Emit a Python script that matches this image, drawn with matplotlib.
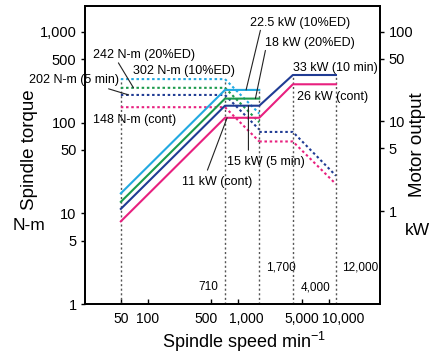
import matplotlib
matplotlib.use("Agg")
import matplotlib.pyplot as plt
from matplotlib.ticker import FixedLocator, FixedFormatter, NullLocator
from matplotlib.transforms import ScaledTranslation

plt.rcParams["font.family"] = ["Liberation Sans", "DejaVu Sans"]
plt.rcParams["mathtext.default"] = "regular"

# Low-speed winding (torque, N-m)
speed_low = [50, 710, 1700]
torque_10ed = [302, 302, 126]
torque_20ed = [242, 242, 101]
torque_5min = [202, 202, 84]
torque_cont = [148, 148, 62]

# High-speed winding (torque, N-m)
speed_high = [1700, 4000, 12000]
torque_10min_high = [79, 79, 26]
torque_cont_high = [62, 62, 21]

# Motor output (kW)
speed_pw = [50, 710, 1700]
power_10ed = [1.58, 22.5, 22.5]
power_20ed = [1.27, 18, 18]
speed_pw_full = [50, 710, 1700, 4000, 12000]
power_5min = [1.06, 15, 15, 33, 33]
power_cont = [0.77, 11, 11, 26, 26]

# marker speeds
mark_speeds = [50, 710, 1700, 4000, 12000]
mark_labels = ["710", "1,700", "4,000", "12,000"]

x_ticks = [50, 100, 500, 1000, 5000, 10000]
x_labels = ["50", "100", "500", "1,000", "5,000", "10,000"]
x_label_shift = [0, 0, -5, 8, 0, 14]  # px, labels nudged apart like the original
yl_ticks = [1, 5, 10, 50, 100, 500, 1000]
yl_labels = ["1", "5", "10", "50", "100", "500", "1,000"]
yr_ticks = [1, 5, 10, 50, 100]
yr_labels = ["1", "5", "10", "50", "100"]

C_LB = "#22a9e1"
C_GR = "#1b9a4c"
C_DB = "#203c94"
C_MG = "#e8207f"
C_VL = "#555555"
DOT = (0, (1.2, 1.3))
VDOT = (0, (1.5, 1.8))
LW = 1.5

fig = plt.figure(figsize=(4.33, 3.54), dpi=100)
ax = fig.add_axes([0.196, 0.141, 0.682, 0.842])
ax2 = ax.twinx()

ax.set_xscale("log")
ax.set_yscale("log")
ax2.set_yscale("log")
ax.set_xlim(20, 37000)
ax.set_ylim(1, 1930)
ax2.set_ylim(0.092, 194)

# vertical guide lines
ax.plot([mark_speeds[0]] * 2, [1, torque_10ed[0]], color=C_VL, lw=1.0, ls=VDOT)
ax.plot([mark_speeds[1]] * 2, [1, torque_10ed[1]], color=C_VL, lw=1.0, ls=VDOT)
ax2.plot([mark_speeds[2]] * 2, [0.092, power_10ed[2]], color=C_VL, lw=1.0, ls=VDOT)
ax2.plot([mark_speeds[3]] * 2, [0.092, power_5min[3]], color=C_VL, lw=1.0, ls=VDOT)
ax2.plot([mark_speeds[4]] * 2, [0.092, power_5min[4]], color=C_VL, lw=1.0, ls=VDOT)

# torque (dotted)
ax.plot(speed_low, torque_10ed, color=C_LB, lw=LW, ls=DOT)
ax.plot(speed_low, torque_20ed, color=C_GR, lw=LW, ls=DOT)
ax.plot(speed_low, torque_5min, color=C_DB, lw=LW, ls=DOT)
ax.plot(speed_low, torque_cont, color=C_MG, lw=LW, ls=DOT)
ax.plot(speed_high, torque_10min_high, color=C_DB, lw=LW, ls=DOT)
ax.plot(speed_high, torque_cont_high, color=C_MG, lw=LW, ls=DOT)

# output (solid)
ax2.plot(speed_pw, power_10ed, color=C_LB, lw=LW)
ax2.plot(speed_pw, power_20ed, color=C_GR, lw=LW)
ax2.plot(speed_pw_full, power_5min, color=C_DB, lw=LW)
ax2.plot(speed_pw_full, power_cont, color=C_MG, lw=LW)

# ticks
ax.xaxis.set_major_locator(FixedLocator(x_ticks))
ax.xaxis.set_major_formatter(FixedFormatter(x_labels))
ax.xaxis.set_minor_locator(NullLocator())
ax.yaxis.set_major_locator(FixedLocator(yl_ticks))
ax.yaxis.set_major_formatter(FixedFormatter(yl_labels))
ax.yaxis.set_minor_locator(NullLocator())
ax2.yaxis.set_major_locator(FixedLocator(yr_ticks))
ax2.yaxis.set_major_formatter(FixedFormatter(yr_labels))
ax2.yaxis.set_minor_locator(NullLocator())

ax.tick_params(axis="x", direction="in", length=3.5, width=1.0, pad=6, labelsize=10)
ax.tick_params(axis="y", direction="out", length=3, width=1.0, pad=3, labelsize=10.5)
ax2.tick_params(axis="y", direction="out", length=3, width=1.0, pad=3, labelsize=10.5)
for a in (ax, ax2):
    for s in a.spines.values():
        s.set_linewidth(1.3)

FS = 9
lead = dict(arrowstyle="-", color="#222222", lw=0.8, shrinkA=0, shrinkB=0)

# torque labels (left axis)
ax.text(24.4, 560, "242 N-m (20%ED)", ha="left", va="center", fontsize=FS)
ax.annotate("", xy=(69, 242), xytext=(47, 456), arrowprops=lead)
ax.text(69, 373, "302 N-m (10%ED)", ha="left", va="center", fontsize=FS)
ax.text(47.5, 297, "202 N-m (5 min)", ha="right", va="center", fontsize=FS)
ax.annotate("", xy=(61, 202), xytext=(36.6, 236), arrowprops=lead)
ax.text(24.4, 108, "148 N-m (cont)", ha="left", va="center", fontsize=FS)

# output labels (right axis)
ax2.text(1358, 125, "22.5 kW (10%ED)", ha="left", va="center", fontsize=FS)
ax2.annotate("", xy=(1216, 22.5), xytext=(1750, 104), arrowprops=lead)
ax2.text(1988, 75, "18 kW (20%ED)", ha="left", va="center", fontsize=FS)
ax2.annotate("", xy=(1541, 18), xytext=(1988, 62), arrowprops=lead)
ax2.text(4050, 39.4, "33 kW (10 min)", ha="left", va="center", fontsize=FS)
ax2.text(4484, 18.7, "26 kW (cont)", ha="left", va="center", fontsize=FS)
ax2.text(756, 3.54, "15 kW (5 min)", ha="left", va="center", fontsize=FS)
ax2.annotate("", xy=(1290, 15), xytext=(1290, 4.8), arrowprops=lead)
ax2.text(240, 2.12, "11 kW (cont)", ha="left", va="center", fontsize=FS)
ax2.annotate("", xy=(750, 11), xytext=(454, 2.87), arrowprops=lead)

# speed labels
FS2 = 8.5
ax.text(601, 1.54, mark_labels[0], ha="right", va="center", fontsize=FS2)
ax.text(2038, 2.55, mark_labels[1], ha="left", va="center", fontsize=FS2)
ax.text(4843, 1.54, mark_labels[2], ha="left", va="center", fontsize=FS2)
ax.text(14080, 2.55, mark_labels[3], ha="left", va="center", fontsize=FS2)

# axis titles
fig.text(0.067, 0.407, "Spindle torque", rotation=90, ha="center", va="bottom", fontsize=13.5)
fig.text(0.067, 0.362, "N-m", ha="center", va="center", fontsize=12.5)
fig.text(0.965, 0.443, "Motor output", rotation=90, ha="center", va="bottom", fontsize=13.5)
fig.text(0.965, 0.350, "kW", ha="center", va="center", fontsize=12.5)
fig.text(0.563, 0.035, "Spindle speed min$^{-1}$", ha="center", va="center", fontsize=13)

# nudge crowded x tick labels
fig.canvas.draw()
for tick, dx in zip(ax.xaxis.get_major_ticks(), x_label_shift):
    if dx:
        tick.label1.set_transform(tick.label1.get_transform()
                                  + ScaledTranslation(dx / 100, 0, fig.dpi_scale_trans))

fig.savefig("out.png", dpi=100)
